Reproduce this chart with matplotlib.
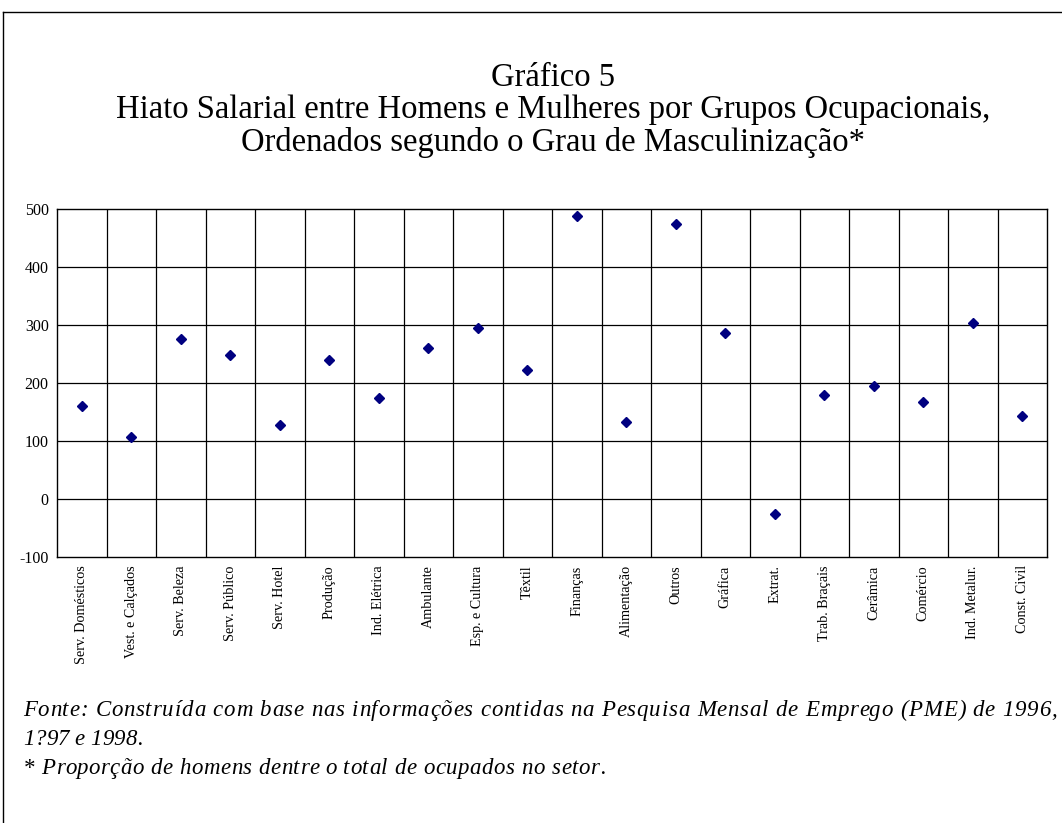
import matplotlib.pyplot as plt
from matplotlib.lines import Line2D

# Grupos ocupacionais, ordenados pelo grau de masculinização
categorias = [
    "Serv. Domésticos", "Vest. e Calçados", "Serv. Beleza", "Serv. Público",
    "Serv. Hotel", "Produção", "Ind. Elétrica", "Ambulante", "Esp. e Cultura",
    "Têxtil", "Finanças", "Alimentação", "Outros", "Gráfica", "Extrat.",
    "Trab. Braçais", "Cerâmica", "Comércio", "Ind. Metalur.", "Const. Civil",
]

# Hiato salarial
hiato = [161, 107, 276, 249, 127, 240, 175, 261, 295, 223,
         488, 133, 474, 287, -26, 179, 195, 167, 304, 143]

y_ticks = [-100, 0, 100, 200, 300, 400, 500]

titulo = [
    "Gráfico 5",
    "Hiato Salarial entre Homens e Mulheres por Grupos Ocupacionais,",
    "Ordenados segundo o Grau de Masculinização*",
]
notas = [
    "Fonte: Construída com base nas informações contidas na Pesquisa "
    "Mensal de Emprego (PME) de 1996,",
    "1?97 e 1998.",
    "* Proporção de homens dentre o total de ocupados no setor.",
]

plt.rcParams["font.family"] = ["Liberation Serif", "DejaVu Serif"]

W, H = 1062, 823
fig = plt.figure(figsize=(W / 100, H / 100), dpi=100)
renderer = fig.canvas.get_renderer()


def fx(px):
    return px / W


def fy(py):
    return 1 - py / H


def largura(s, size):
    t = fig.text(0, 0, s, fontsize=size, style="italic")
    w = t.get_window_extent(renderer).width
    t.remove()
    return w


def texto_espacado(s, x0, x1, py, size):
    """Desenha o texto letra a letra, espaçando para ocupar de x0 a x1."""
    esp = largura("a a", size) - largura("aa", size)
    pref = []
    for i in range(len(s)):
        base = s[:i].rstrip()
        n_esp = len(s[:i]) - len(base)
        pref.append((largura(base, size) if base else 0) + n_esp * esp)
    total = largura(s, size)
    track = max(0, (x1 - x0 - total) / (len(s) - 1))
    for i, ch in enumerate(s):
        if ch == " ":
            continue
        fig.text(fx(x0 + pref[i] + i * track), fy(py), ch, ha="left",
                 va="baseline", fontsize=size, style="italic")


# moldura externa
fig.add_artist(Line2D([fx(3), fx(3)], [0, fy(12)], color="black", lw=1))
fig.add_artist(Line2D([fx(3), 1], [fy(12), fy(12)], color="black", lw=1))

left, right, top, bottom = 57, 1047, 209, 557
ax = fig.add_axes([fx(left), fy(bottom), (right - left) / W, (bottom - top) / H])

x = list(range(len(categorias)))
ax.plot(x, hiato, linestyle="none", marker="D", markersize=5,
        color="#000080", zorder=3)

ax.set_xlim(-0.5, len(categorias) - 0.5)
ax.set_ylim(-100, 500)
ax.set_yticks(y_ticks)
ax.set_yticklabels([str(v) for v in y_ticks], fontsize=11.5)
ax.set_xticks(x)
ax.set_xticklabels(categorias, rotation=90, fontsize=10.2)
ax.tick_params(axis="y", length=0, pad=6)
ax.tick_params(axis="x", length=0, pad=6)

for v in y_ticks[1:-1]:
    ax.axhline(v, color="black", lw=0.9, zorder=1)
for i in range(1, len(categorias)):
    ax.axvline(i - 0.5, color="black", lw=0.9, zorder=1)
for s in ax.spines.values():
    s.set_linewidth(1)

# título em três linhas
for linha, py in zip(titulo, [78, 110, 143]):
    fig.text(fx(553), fy(py), linha, ha="center", va="center", fontsize=23.5)

# notas de rodapé com leve espaçamento entre letras
for linha, x1, py in zip(notas, [1057, 138, 603], [716, 745, 774]):
    texto_espacado(linha, 23, x1, py, 16.5)

fig.savefig("out.png", dpi=100)
